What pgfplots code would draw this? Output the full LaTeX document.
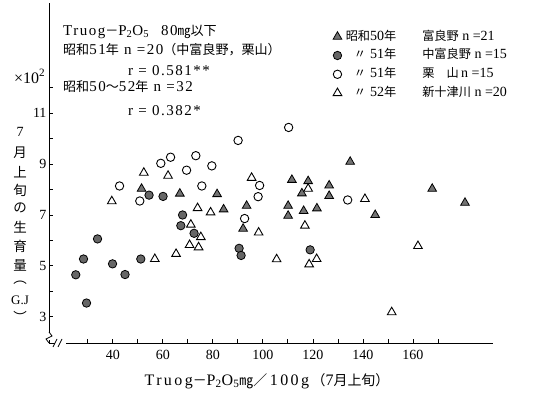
\documentclass[border=0pt]{standalone}
\usepackage{fontspec}
\setmainfont{Liberation Serif}
\newfontfamily\lsp{Liberation Serif}[LetterSpace=10]
\newfontfamily\lspw{Liberation Serif}[LetterSpace=15]
\newfontfamily\jp{Noto Sans CJK JP}[Scale=0.87]
\usepackage{pgfplots}
\pgfplotsset{compat=1.18}

\begin{document}
\begin{tikzpicture}
\path (0bp,0bp) rectangle (538bp,400bp);
\begin{axis}[
  at={(49bp,57bp)}, anchor=south west,
  scale only axis, width=444bp, height=340bp,
  xmin=14.5, xmax=192, ymin=1.97, ymax=15.33,
  axis x line=bottom, axis y line=left,
  axis line style={-, line width=0.9bp},
  tick align=inside, major tick length=4bp, minor tick length=4bp,
  tick style={black, line width=0.8bp},
  xtick={40,60,...,160}, minor xtick={30,50,...,170},
  ytick={3,5,7,9,11}, minor ytick={4,6,8,10,12},
  ticklabel style={font=\fontsize{14bp}{16bp}\selectfont},
  /pgf/number format/assume math mode=true,
  xticklabel style={yshift=-4bp},
  yticklabel style={xshift=1bp},
  legend style={at={(axis description cs:0.6395,0.925)}, anchor=north west,
    draw=none, fill=none, inner sep=0pt, row sep=2.8bp,
    font=\fontsize{14bp}{16bp}\selectfont,
    nodes={inner sep=1.5bp, text height=10bp, text depth=3bp}},
  legend cell align=left,
  legend image code/.code={\draw[mark repeat=2,mark phase=2,#1] plot coordinates {(0bp,0bp)(5bp,0bp)(10bp,0bp)};},
]
% 昭和50年 富良野
\addplot[only marks, mark=triangle*, mark size=5bp,
  mark options={fill=black!55, draw=black, line width=0.8bp}] coordinates {
(51.5,8.03)(66.8,7.84)(81.7,7.82)(84.3,7.22)(93.5,7.36)(92.1,6.46)
(111.6,8.38)(110.1,7.36)(110.1,6.97)(118.1,8.33)(115.6,7.85)(126.5,8.16)
(126.5,7.75)(134.9,9.09)(116.3,7.16)(121.6,7.26)(144.9,7.00)(167.7,8.03)
(180.8,7.48)};
\addlegendentry{\makebox[53bp][r]{{\jp 昭和}50{\jp 年}}\hspace{26bp}{\jp 富良野} n =21}
% 51年 中富良野
\addplot[only marks, mark=*, mark size=4.2bp,
  mark options={fill=black!60, draw=black, line width=0.8bp}] coordinates {
(33.9,6.06)(28.3,5.27)(39.9,5.08)(25.2,4.65)(44.9,4.66)(29.5,3.54)
(51.2,5.27)(54.5,7.78)(60.1,7.73)(67.9,7.00)(67.2,6.58)(72.5,6.28)
(90.5,5.69)(91.3,5.41)(118.9,5.63)};
\addlegendentry{\makebox[53bp][r]{{\jp 〃}\hspace{4bp}51{\jp 年}}\hspace{26bp}{\jp 中富良野} n =15}
% 51年 栗山
\addplot[only marks, mark=*, mark size=4.2bp,
  mark options={fill=white, draw=black, line width=0.9bp}] coordinates {
(42.7,8.14)(50.8,7.55)(59.2,9.03)(63.1,9.27)(73.2,9.33)(69.5,8.76)
(79.6,8.93)(75.6,8.14)(90.1,9.93)(110.3,10.44)(98.7,8.16)(98.1,7.72)
(92.7,6.86)(133.9,7.59)};
\addlegendentry{\makebox[53bp][r]{{\jp 〃}\hspace{4bp}51{\jp 年}}\hspace{26bp}{\jp 栗　山}\,n =15}
% 52年 新十津川
\addplot[only marks, mark=triangle*, mark size=5bp,
  mark options={fill=white, draw=black, line width=0.9bp}] coordinates {
(39.6,7.54)(52.4,8.66)(62.1,8.54)(73.9,7.27)(79.1,7.10)(71.2,6.62)
(75.2,6.13)(70.7,5.82)(74.3,5.73)(65.3,5.47)(56.8,5.27)(95.5,8.46)
(98.3,6.31)(105.5,5.26)(118.1,8.03)(116.8,6.58)(121.5,5.27)(118.5,5.06)
(140.8,7.63)(162.0,5.78)(151.5,3.18)};
\addlegendentry{\makebox[53bp][r]{{\jp 〃}\hspace{4bp}52{\jp 年}}\hspace{26bp}{\jp 新十津川} n =20}
\end{axis}
\begin{scope}[x=1bp, y=1bp]
  \begin{scope}[font=\fontsize{15bp}{17bp}\lsp]
    \node[anchor=base west, inner sep=0pt] at (63,365) {Truog{\jp －}P\textsubscript{2}O\textsubscript{5}\hspace{12bp}80{\jp ㎎以下}};
    \node[anchor=base west, inner sep=0pt] at (63,346) {{\jp 昭和}51{\jp 年} n =20{\jp （中富良野，栗山）}};
    \node[anchor=base west, inner sep=0pt] at (128,325) {r = 0.581**};
    \node[anchor=base west, inner sep=0pt] at (63,309) {{\jp 昭和}50{\jp 〜}52{\jp 年} n =32};
    \node[anchor=base west, inner sep=0pt] at (128,285) {r = 0.382*};
  \end{scope}
  \node[anchor=base west, inner sep=0pt, font=\fontsize{16bp}{18bp}\selectfont] at (14,317) {×10\textsuperscript{2}};
  \begin{scope}[font=\fontsize{15.5bp}{17bp}\jp]
    \foreach \c/\yy in {月/153, 上/172, 旬/190, の/208, 生/227, 育/246, 量/265}
      \node[inner sep=0pt] at (20,400-\yy) {\c};
    \node[inner sep=0pt] at (20,400-283) {\smash{︵}};
    \node[inner sep=0pt] at (20,400-322) {\smash{︶}};
  \end{scope}
  \node[inner sep=0pt, font=\fontsize{14bp}{16bp}\selectfont] at (20,400-132) {7};
  \node[inner sep=0pt, font=\fontsize{13bp}{15bp}\selectfont] at (20,400-300) {G.J};
  \node[font=\fontsize{16bp}{18bp}\lspw, inner sep=0pt] at (267,19)
    {Truog{\jp －}P\textsubscript{2}O\textsubscript{5}{\jp ㎎／}\,100g\,{\jp （}7{\jp 月上旬）}};
  % axis breaks
  \fill[white] (55,54) rectangle (66,60);
  \draw[line width=0.8bp] (53,53) -- (57,61);
  \draw[line width=0.8bp] (58,53) -- (62,61);
  \fill[white] (46,60) rectangle (52,67);
  \draw[line width=0.8bp] (49,57) -- (46,61) -- (52,64) -- (49,68);
\end{scope}
\end{tikzpicture}
\end{document}
